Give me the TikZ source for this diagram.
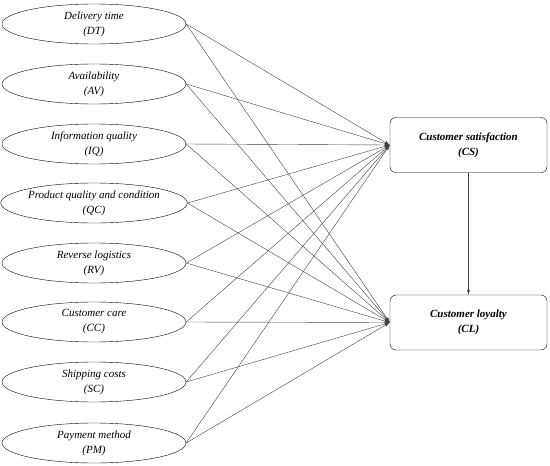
\documentclass[tikz,border=0pt]{standalone}
\usepackage{fontspec}
\setmainfont{Liberation Serif}
\usetikzlibrary{shapes.geometric,arrows.meta}
\begin{document}
\begin{tikzpicture}[x=1pt,y=-1pt,
    factor/.style={draw, ellipse, minimum width=184pt, minimum height=40pt, inner sep=0pt, align=center, font=\fontsize{11}{15}\selectfont\itshape},
    outcome/.style={draw, rounded corners=6pt, minimum width=157pt, minimum height=55pt, align=center, font=\fontsize{11}{15}\selectfont\bfseries\itshape},
    link/.style={draw=black!75, -{Latex[length=5pt,width=3pt]}}]
    \useasboundingbox (0,0) rectangle (550,466);
    \node[factor] (DT) at (94,24) {Delivery time\\(DT)};
    \node[factor] (AV) at (94,84) {Availability\\(AV)};
    \node[factor] (IQ) at (94,144) {Information quality\\(IQ)};
    \node[factor] (QC) at (94,203) {Product quality and condition\\(QC)};
    \node[factor] (RV) at (94,263) {Reverse logistics\\(RV)};
    \node[factor] (CC) at (94,322) {Customer care\\(CC)};
    \node[factor] (SC) at (94,382) {Shipping costs\\(SC)};
    \node[factor] (PM) at (94,443) {Payment method\\(PM)};
    \node[outcome] (CS) at (468.5,145) {Customer satisfaction\\(CS)};
    \node[outcome] (CL) at (468.5,322.5) {Customer loyalty\\(CL)};
    \foreach \f in {DT,AV,IQ,QC,RV,CC,SC,PM} {
        \draw[link] (\f.east) -- (CS.west);
        \draw[link] (\f.east) -- (CL.west);
    }
    \draw[link] (CS.south) -- (CL.north);
\end{tikzpicture}
\end{document}
